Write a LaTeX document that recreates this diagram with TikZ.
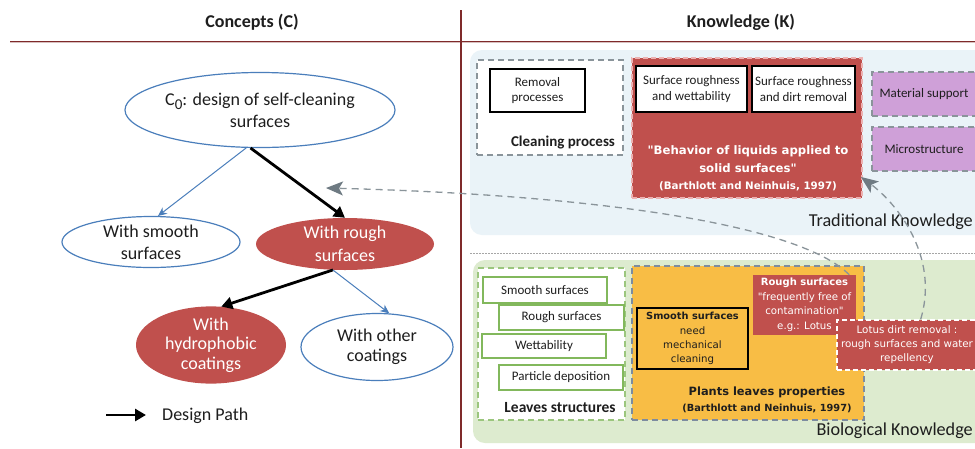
\documentclass[tikz,border=0pt]{standalone}
\usepackage{fontspec}
\setmainfont{Carlito}
\newfontfamily\dv{DejaVu Sans}
\usetikzlibrary{shapes.geometric,arrows.meta}
\definecolor{dred}{HTML}{7F2A2A}
\definecolor{oblue}{HTML}{4A7EBB}
\definecolor{ored}{HTML}{C0504D}
\definecolor{tradbg}{HTML}{EAF3F8}
\definecolor{biobg}{HTML}{DDEBCF}
\definecolor{purp}{HTML}{CFA0D8}
\definecolor{orng}{HTML}{F8BD45}
\definecolor{gbord}{HTML}{82B85C}
\definecolor{dashgray}{HTML}{8A949A}
\definecolor{tipgray}{HTML}{6E7A82}
\definecolor{txt}{HTML}{1E1E1E}
\begin{document}
\begin{tikzpicture}[x=1pt,y=-1pt,
  ell/.style={ellipse, draw=oblue, line width=1.2pt, fill=white, inner sep=0pt, align=center, text=txt, font=\fontsize{18}{22}\selectfont},
  redell/.style={ellipse, fill=ored, draw=none, inner sep=0pt, align=center, text=white, font=\fontsize{18}{22}\selectfont},
  bluearr/.style={draw=oblue, line width=1pt, -{Stealth[length=9pt,width=8pt]}},
  patharr/.style={draw=black, line width=2.8pt, -{Triangle[length=11pt,width=12pt]}},
  kdash/.style={draw=dashgray, line width=1.3pt, dash pattern=on 7pt off 5pt, -{Stealth[length=17pt,width=14pt,inset=4pt,color=tipgray]}},
  blackbox/.style={draw=black, line width=1.6pt, fill=white, inner sep=0pt, align=center, font=\fontsize{13}{15.5}\selectfont, text=txt},
  greenbox/.style={draw=gbord, line width=1.4pt, fill=white, inner sep=0pt, font=\fontsize{13}{15}\selectfont, text=txt},
  grpbox/.style={draw=dashgray, line width=1.3pt, dash pattern=on 6pt off 4pt, inner sep=0pt},
  purpbox/.style={grpbox, fill=purp, font=\fontsize{13}{15}\selectfont, text=txt},
  bgbox/.style={rounded corners=12pt, draw=none, inner sep=0pt},
  hdr/.style={font=\fontsize{18}{20}\selectfont\bfseries, text=txt},
  bigtxt/.style={font=\fontsize{18.2}{20}\selectfont, text=txt, inner sep=0pt}
]
\useasboundingbox (0,0) rectangle (975,448);
\clip (0,0) rectangle (975,448);
\fill[white] (0,0) rectangle (975,448);

% header
\node[hdr] (hc) at (252,22) {Concepts (C)};
\node[hdr] (hk) at (741,22) {Knowledge (K)};
\coordinate (hl1) at (10,42);
\coordinate (hl2) at (975,42);
\coordinate (vl1) at (461,10);
\coordinate (vl2) at (461,448);
\draw[dred, line width=2.2pt] (hl1) -- (hl2);
\draw[white!70!dred, line width=0.6pt] (hl1) -- (hl2);
\draw[dred, line width=1.4pt] (vl1) -- (vl2);

% ---------- Concepts ----------
\node[ell, minimum width=270, minimum height=75] (c0) at (260,110)
  {C\raisebox{-0.25em}{\fontsize{15}{15}\selectfont 0}: design of self-cleaning\\surfaces};
\node[ell, minimum width=178, minimum height=51] (smooth) at (151,242) {With smooth\\surfaces};
\node[redell, minimum width=178, minimum height=52, font=\fontsize{18}{23}\selectfont] (rough) at (345,244) {With rough\\surfaces};
\node[redell, minimum width=150, minimum height=66, font=\fontsize{18}{19.5}\selectfont] (hydro) at (211,345) {With\\hydrophobic\\coatings};
\node[ell, minimum width=152, minimum height=67, font=\fontsize{18}{19.5}\selectfont] (other) at (377,347) {With other\\coatings};

\draw[bluearr] (c0.250) -- (smooth.75);
\draw[patharr] (c0.256) -- (rough.north);
\draw[patharr] (rough.245) -- (hydro.75);
\draw[bluearr] (rough.245) -- (other.70);

\coordinate (lg1) at (106,415);
\coordinate (lg2) at (146,415);
\draw[patharr] (lg1) -- (lg2);
\node[anchor=west, inner sep=0pt, text=txt, font=\fontsize{18}{20}\selectfont] (lgt) at (162,416) {Design Path};

% ---------- Knowledge: traditional ----------
\node[bgbox, fill=tradbg, minimum width=520, minimum height=185] (trad) at (730,142.5) {};
\node[bigtxt, anchor=east] (tradt) at (973,222) {Traditional Knowledge};

\node[grpbox, fill=white, minimum width=146, minimum height=95] (clean) at (550,107.5) {};
\node[blackbox, minimum width=95, minimum height=43] (removal) at (537.5,90.5) {Removal\\processes};
\node[font=\fontsize{15}{17}\selectfont\bfseries, text=txt, inner sep=0pt] (cleant) at (563,143) {Cleaning process};

\node[fill=ored, draw={rgb,255:red,236;green,178;blue,178}, line width=1.4pt, dash pattern=on 5pt off 3pt, minimum width=230, minimum height=140, inner sep=0pt] (liq) at (747,128) {};
\node[blackbox, minimum width=111, minimum height=46] (srw) at (691.5,89) {Surface roughness\\and wettability};
\node[blackbox, minimum width=103, minimum height=46] (srd) at (803.5,89) {Surface roughness\\and dirt removal};
\node[text=white, align=center, inner sep=0pt, font=\dv\bfseries\fontsize{11.7}{18}\selectfont] (liqt) at (748,159) {"Behavior of liquids applied to\\solid surfaces"};
\node[text=white, inner sep=0pt, font=\dv\bfseries\fontsize{10.3}{12}\selectfont] (liqc) at (748,186) {(Barthlott and Neinhuis, 1997)};

\node[purpbox, minimum width=104, minimum height=44] (mat) at (924,94) {Material support};
\node[purpbox, minimum width=104, minimum height=44] (micro) at (924,149) {Microstructure};

% separator
\coordinate (sepA) at (470,253);
\coordinate (sepB) at (975,253);
\draw[gray!70, line width=0.8pt, dash pattern=on 1.5pt off 1.5pt] (sepA) -- (sepB);

% ---------- Knowledge: biological ----------
\node[bgbox, fill=biobg, minimum width=520, minimum height=183] (bio) at (733,351.5) {};
\node[bigtxt, anchor=east] (biot) at (973,431) {Biological Knowledge};

\node[draw=gbord!80, line width=1.3pt, dash pattern=on 6pt off 4pt, fill=white, minimum width=147, minimum height=152, inner sep=0pt] (leaves) at (551.5,344) {};
\node[greenbox, minimum width=124, minimum height=26] (gss) at (545,290) {Smooth surfaces};
\node[greenbox, minimum width=125, minimum height=25] (grs) at (561.5,317.5) {Rough surfaces};
\node[greenbox, minimum width=124, minimum height=24] (gw) at (544,346) {Wettability};
\node[greenbox, minimum width=124, minimum height=25] (gpd) at (561,377.5) {Particle deposition};
\node[font=\fontsize{15.5}{17}\selectfont\bfseries, text=txt, inner sep=0pt] (leavest) at (560,408) {Leaves structures};

\node[fill=orng, draw={rgb,255:red,125;green,140;blue,160}, line width=1.4pt, dash pattern=on 6pt off 4pt, minimum width=232, minimum height=154, inner sep=0pt] (plants) at (748,343) {};
\node[draw=black, line width=1.6pt, fill=orng, minimum width=111, minimum height=61, inner sep=0pt, align=center, text=txt, font=\dv\fontsize{10.2}{14.3}\selectfont] (ssn) at (692.5,338.5) {{\bfseries\fontsize{9.8}{14.3}\selectfont Smooth surfaces}\\need\\mechanical\\cleaning};
\node[text=txt, inner sep=0pt, font=\dv\bfseries\fontsize{11.4}{13}\selectfont] (plantst) at (767,392) {Plants leaves properties};
\node[text=txt, inner sep=0pt, font=\dv\bfseries\fontsize{9.8}{12}\selectfont] (plantsc) at (767,408) {(Barthlott and Neinhuis, 1997)};

\node[fill=ored, minimum width=103, minimum height=60, inner sep=0pt, align=center, text=white, font=\dv\fontsize{10.2}{14.5}\selectfont] (rs) at (804.5,305) {{\bfseries\fontsize{10}{14.5}\selectfont Rough surfaces}\\"frequently free of\\contamination"\\e.g.: Lotus};

\node[fill=ored, draw=white, line width=1.4pt, dash pattern=on 5pt off 3pt, minimum width=140, minimum height=50, inner sep=0pt, align=center, text=white, font=\dv\fontsize{10.3}{14}\selectfont] (lotus) at (907,345) {Lotus dirt removal :\\rough surfaces and water\\repellency};

% ---------- knowledge links ----------
\coordinate (tip1) at (326,188);
\coordinate (tip2) at (861,177);
\draw[kdash] (rs.34) .. controls (800,225) and (600,195) .. (tip1);
\draw[kdash] (lotus.62) .. controls (940,255) and (895,202) .. (tip2);
\end{tikzpicture}
\end{document}
